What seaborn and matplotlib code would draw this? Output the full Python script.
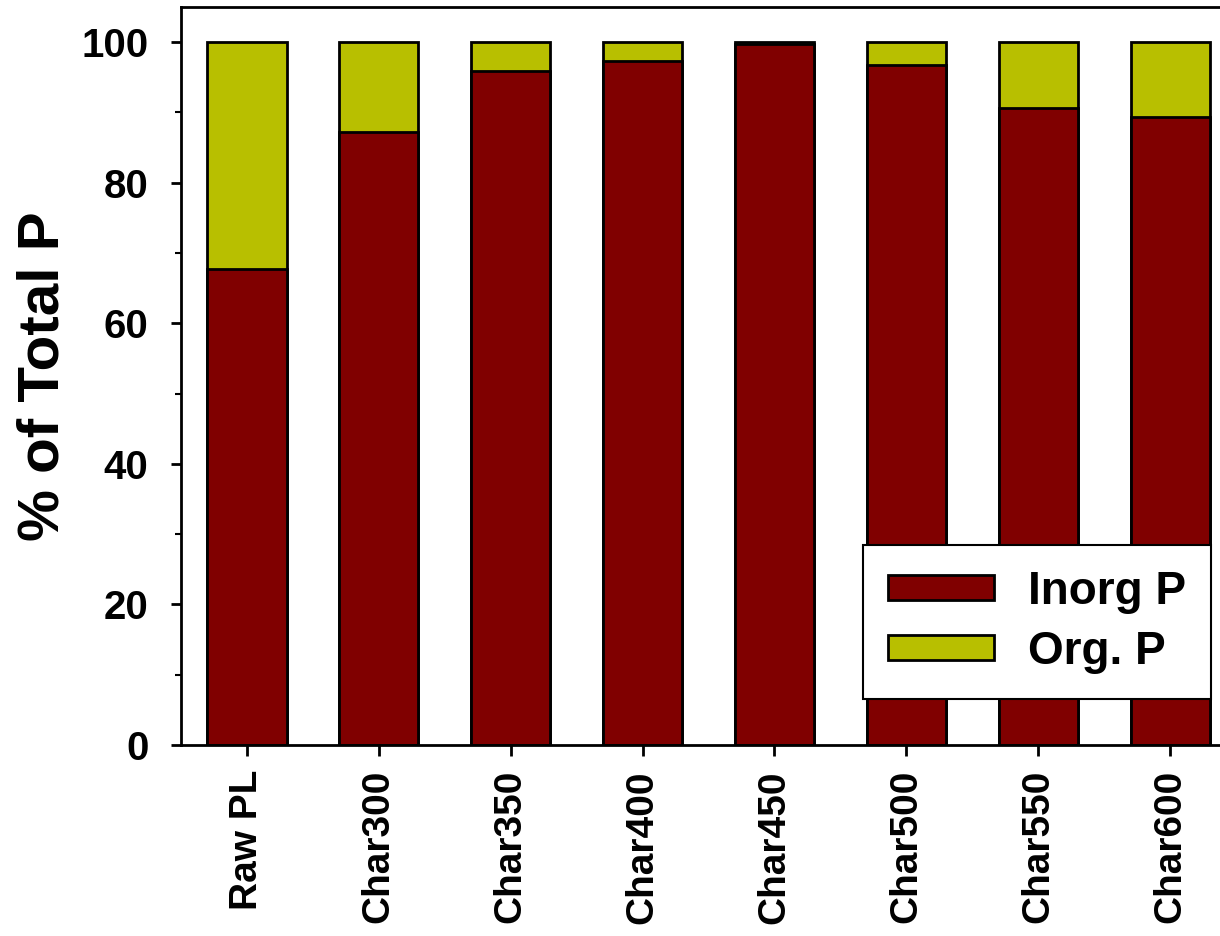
import matplotlib
matplotlib.use("Agg")
import matplotlib.pyplot as plt
import seaborn as sns
import pandas as pd
from matplotlib.ticker import MultipleLocator

categories = ["Raw PL", "Char300", "Char350", "Char400", "Char450", "Char500", "Char550", "Char600"]
inorg_p = [67.7, 87.2, 95.9, 97.3, 99.7, 96.7, 90.7, 89.3]
org_p = [32.3, 12.8, 4.1, 2.7, 0.3, 3.3, 9.3, 10.7]

sns.set_theme(style="ticks")
plt.rcParams['font.family'] = ['Liberation Sans', 'DejaVu Sans']
plt.rcParams['font.weight'] = 'bold'
for k in ['text.color', 'axes.labelcolor', 'xtick.color', 'ytick.color', 'axes.edgecolor']:
    plt.rcParams[k] = 'black'

df = pd.DataFrame({"cat": categories, "inorg": inorg_p, "org": org_p})
df["total"] = df["inorg"] + df["org"]

fig = plt.figure(figsize=(12.2, 9.36), dpi=100)
ax = fig.add_axes([181/1220, 191/936, (1236-181)/1220, (745-7)/936])

c_org = "#B8BF00"
c_inorg = "#800000"

sns.barplot(data=df, x="cat", y="total", color=c_org, width=0.6,
            edgecolor="black", linewidth=2, saturation=1, ax=ax)
sns.barplot(data=df, x="cat", y="inorg", color=c_inorg, width=0.6,
            edgecolor="black", linewidth=2, saturation=1, ax=ax)

ax.set_xlim(-0.5, 7.5)
ax.set_ylim(0, 105)
ax.yaxis.set_major_locator(MultipleLocator(20))
ax.yaxis.set_minor_locator(MultipleLocator(10))
for s in ax.spines.values():
    s.set_linewidth(2)
    s.set_color("black")

ax.tick_params(axis="y", which="major", length=7.5, width=2, pad=16, labelsize=29)
ax.tick_params(axis="y", which="minor", length=4.5, width=1.5)
ax.tick_params(axis="x", which="major", length=8, width=2, pad=10, labelsize=28)
ax.set_xticks(range(len(categories)))
ax.set_xticklabels(categories, rotation=90, fontweight="bold")
for lab in ax.get_yticklabels():
    lab.set_fontweight("bold")

ax.set_xlabel("")
ax.set_ylabel("% of Total P", fontsize=42, fontweight="bold", labelpad=8)

h_inorg = ax.containers[1].patches[0]
h_org = ax.containers[0].patches[0]
leg = ax.legend([h_inorg, h_org], ["Inorg P", "Org. P"],
                loc="lower left", bbox_to_anchor=((863-181)/1055, (745-699)/738),
                prop={"weight": "bold", "size": 33},
                frameon=True, fancybox=False, edgecolor="black", facecolor="white",
                framealpha=1,
                handlelength=2.3, handleheight=0.45, labelspacing=0.35,
                borderpad=0.55, handletextpad=0.75, borderaxespad=0)
leg.get_frame().set_linewidth(1.5)

fig.savefig("out.png", dpi=100)
